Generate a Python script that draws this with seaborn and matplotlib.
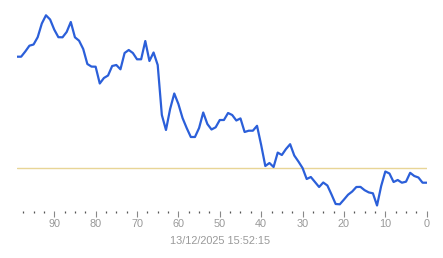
import numpy as np
import pandas as pd
import matplotlib
matplotlib.use("Agg")
import matplotlib.pyplot as plt
import seaborn as sns

# x positions (reversed axis, 99 .. 0)
positions = list(range(99, -1, -1))
# values (arbitrary units, higher = up)
values = [
    163.3, 163.3, 168.5, 174.3, 175.5, 182.8, 196.5, 204.7, 200.5, 190.4,
    182.8, 182.7, 188.0, 198.0, 182.7, 179.3, 171.0, 156.0, 153.4, 153.3,
    136.5, 142.0, 144.5, 154.0, 155.0, 150.7, 167.0, 170.0, 167.0, 160.7,
    160.7, 179.0, 159.0, 167.5, 155.0, 105.0, 90.0, 111.0, 126.5, 116.0,
    102.0, 92.0, 83.0, 83.0, 92.0, 107.5, 96.0, 90.5, 92.7, 100.0,
    100.0, 107.0, 105.0, 99.5, 101.6, 88.0, 89.3, 89.3, 94.2, 75.0,
    54.0, 57.0, 53.0, 67.4, 65.0, 71.0, 75.8, 64.5, 58.5, 52.0,
    41.0, 43.0, 38.0, 33.0, 37.5, 34.5, 25.5, 16.0, 15.7, 20.4,
    25.3, 28.5, 33.0, 33.1, 29.8, 27.6, 26.7, 14.5, 34.0, 48.5,
    46.5, 38.0, 40.0, 37.3, 38.3, 47.2, 44.0, 42.5, 37.3, 37.3,
]
ref_level = 51.7
major_ticks = [90, 80, 70, 60, 50, 40, 30, 20, 10, 0]
date_label = "13/12/2025 15:52:15"

df = pd.DataFrame({"pos": positions, "value": values})

sns.set_style("white")
plt.rcParams["font.family"] = ["Liberation Sans", "DejaVu Sans"]

fig = plt.figure(figsize=(4.43, 2.58), dpi=100)
W, H = 443, 258
left, right, top, bottom = 17, 426.7, 5, 211
ax = fig.add_axes([left / W, 1 - bottom / H, (right - left) / W, (bottom - top) / H])

ax.axhline(ref_level, color="#e8d596", lw=1.0, zorder=1)
sns.lineplot(data=df, x="pos", y="value", ax=ax, color="#2b5fd9", lw=1.6, zorder=3)

ax.set_xlim(99, 0)
ax.set_ylim(9, 215)
ax.set_xticks(major_ticks)
ax.set_xticklabels([str(t) for t in major_ticks])
ax.set_xticks(np.arange(0, 99, 2.5), minor=True)
ax.set_yticks([])
ax.tick_params(axis="x", which="major", bottom=True, direction="out", length=4,
               width=0.8, color="#888888", labelcolor="#999999",
               labelsize=7.8, pad=1.5)
ax.tick_params(axis="x", which="minor", bottom=True, direction="out", length=1.5,
               width=0.9, color="#555555")
ax.set_xlabel("")
ax.set_ylabel("")
for s in ax.spines.values():
    s.set_visible(False)

fig.text(220 / W, 1 - 241 / H, date_label, ha="center", va="center",
         color="#999999", fontsize=7.8)

fig.savefig("out.png", dpi=100)
